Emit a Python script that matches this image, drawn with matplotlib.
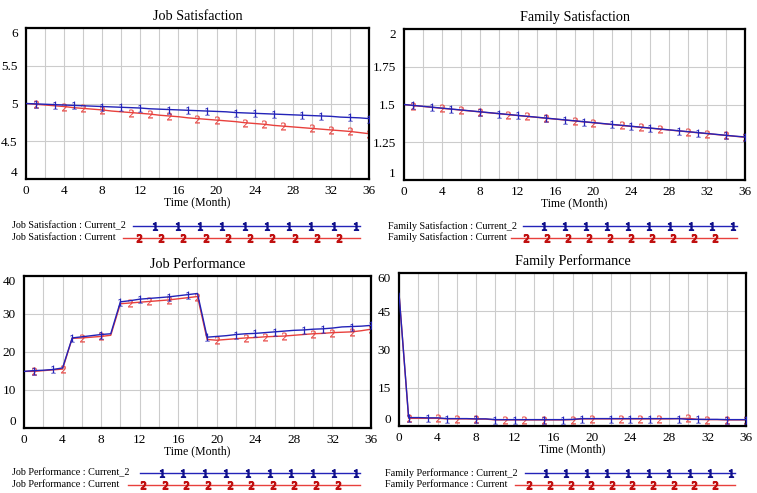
import matplotlib
matplotlib.use('Agg')
import matplotlib.pyplot as plt
import numpy as np

plt.rcParams['font.family'] = ['Liberation Serif', 'DejaVu Serif']
plt.rcParams['mathtext.fontset'] = 'custom'
plt.rcParams['mathtext.rm'] = 'Liberation Serif'
plt.rcParams['mathtext.it'] = 'Liberation Serif'

months = list(range(37))

js_cur2 = [5.00, 4.995, 4.99, 4.985, 4.98, 4.975, 4.97, 4.965, 4.96, 4.955, 4.95, 4.945, 4.94,
           4.93, 4.925, 4.92, 4.915, 4.91, 4.905, 4.90, 4.895, 4.89, 4.88, 4.875, 4.87, 4.865,
           4.86, 4.855, 4.85, 4.845, 4.84, 4.835, 4.83, 4.82, 4.815, 4.81, 4.80]
js_cur = [5.00, 4.99, 4.98, 4.97, 4.96, 4.945, 4.935, 4.925, 4.915, 4.90, 4.89, 4.88, 4.87,
          4.86, 4.845, 4.835, 4.825, 4.81, 4.80, 4.79, 4.78, 4.77, 4.76, 4.745, 4.735, 4.725,
          4.71, 4.70, 4.69, 4.68, 4.67, 4.66, 4.65, 4.64, 4.63, 4.615, 4.60]

fs_cur2 = [1.500, 1.494, 1.488, 1.482, 1.476, 1.470, 1.464, 1.458, 1.452, 1.446, 1.440, 1.434,
           1.428, 1.422, 1.416, 1.410, 1.404, 1.398, 1.392, 1.386, 1.380, 1.374, 1.368, 1.362,
           1.356, 1.350, 1.344, 1.338, 1.332, 1.326, 1.320, 1.314, 1.308, 1.302, 1.296, 1.290, 1.285]
fs_cur = [1.500, 1.493, 1.487, 1.481, 1.475, 1.469, 1.463, 1.457, 1.451, 1.445, 1.439, 1.433,
          1.427, 1.421, 1.415, 1.409, 1.403, 1.397, 1.391, 1.385, 1.379, 1.373, 1.367, 1.361,
          1.355, 1.349, 1.343, 1.337, 1.331, 1.325, 1.319, 1.313, 1.307, 1.301, 1.295, 1.289, 1.283]

jp_cur2 = [14.9, 15.1, 15.2, 15.4, 15.8, 23.7, 24.0, 24.3, 24.6, 24.8, 33.2, 33.5, 33.9, 34.1,
           34.3, 34.5, 34.8, 35.1, 35.4, 23.9, 24.1, 24.3, 24.6, 24.8, 24.9, 25.1, 25.3, 25.5,
           25.7, 25.8, 26.0, 26.1, 26.3, 26.6, 26.7, 26.8, 27.0]
jp_cur = [14.9, 14.9, 15.1, 15.3, 15.5, 23.6, 23.7, 23.9, 24.1, 24.4, 32.7, 32.9, 33.1, 33.3,
          33.5, 33.7, 34.0, 34.3, 34.6, 23.3, 23.1, 23.3, 23.5, 23.7, 23.8, 24.0, 24.1, 24.2,
          24.4, 24.6, 24.8, 24.9, 25.1, 25.2, 25.3, 25.6, 26.0]

fp_cur2 = [52.0, 3.3, 3.3, 3.2, 3.2, 2.9, 2.9, 2.9, 2.8, 2.8, 2.5, 2.5, 2.5, 2.5, 2.5, 2.5,
           2.5, 2.5, 2.6, 2.9, 2.9, 2.9, 2.9, 2.9, 2.9, 2.9, 2.9, 2.9, 2.9, 2.9, 2.6, 2.6,
           2.6, 2.6, 2.5, 2.5, 2.5]
fp_cur = [52.0, 3.0, 3.0, 3.0, 3.0, 2.8, 2.8, 2.8, 2.7, 2.7, 2.4, 2.4, 2.4, 2.4, 2.4, 2.4,
          2.4, 2.4, 2.5, 2.8, 2.8, 2.8, 2.8, 2.8, 2.8, 2.8, 2.8, 2.8, 2.8, 2.9, 3.0, 2.6,
          2.5, 2.5, 2.4, 2.4, 2.4]

mk_blue = [1, 3, 5, 8, 10, 12, 15, 17, 19, 22, 24, 26, 29, 31, 34, 36]
mk_red = [1, 4, 6, 8, 11, 13, 15, 18, 20, 23, 25, 27, 30, 32, 34, 36]

BLUE = '#2323b8'
RED = '#e8403c'
W, H = 757, 493

panels = [
    ('Job Satisfaction', js_cur2, js_cur, (4, 6), [4, 4.5, 5, 5.5, 6], ['4', '4.5', '5', '5.5', '6'],
     (26, 28, 369, 179)),
    ('Family Satisfaction', fs_cur2, fs_cur, (1, 2), [1, 1.25, 1.5, 1.75, 2], ['1', '1.25', '1.5', '1.75', '2'],
     (404, 29, 745, 180)),
    ('Job Performance', jp_cur2, jp_cur, (0, 40), [0, 10, 20, 30, 40], ['0', '10', '20', '30', '40'],
     (24, 276, 371, 428)),
    ('Family Performance', fp_cur2, fp_cur, (0, 60), [0, 15, 30, 45, 60], ['0', '15', '30', '45', '60'],
     (399, 273, 746, 426)),
]

fig = plt.figure(figsize=(W / 100, H / 100), dpi=100)

for title, s2, s1, ylim, yt, ytl, (l, t, r, b) in panels:
    ax = fig.add_axes([l / W, 1 - b / H, (r - l) / W, (b - t) / H])
    ax.plot(months, s2, color=BLUE, lw=1.0, marker='$1$', markersize=5.5, markevery=mk_blue,
            markeredgewidth=0.2, zorder=3)
    ax.plot(months, s1, color=RED, lw=1.0, marker='$2$', markersize=5.5, markevery=mk_red,
            markeredgewidth=0.2, zorder=2)
    ax.set_xlim(0, 36)
    ax.set_ylim(*ylim)
    ax.set_xticks(range(0, 37, 4))
    ax.set_xticks(range(0, 37, 2), minor=True)
    ax.set_yticks(yt)
    ax.set_yticklabels(ytl)
    ax.grid(True, which='both', axis='x', color='#cccccc', lw=0.8)
    ax.grid(True, which='major', axis='y', color='#cccccc', lw=0.8)
    ax.tick_params(which='both', length=0, labelsize=9.5, pad=4)
    ax.tick_params(axis='y', pad=6)
    ylabs = ax.get_yticklabels()
    ylabs[0].set_va('bottom')
    ylabs[-1].set_va('top')
    for sp in ax.spines.values():
        sp.set_linewidth(1.6)
        sp.set_color('black')
    ax.set_title(title, fontsize=10.2, pad=6)
    ax.set_xlabel('Time (Month)', fontsize=8.5, labelpad=0)

# legend rows under each panel
lg = fig.add_axes([0, 0, 1, 1])
lg.set_xlim(0, W)
lg.set_ylim(H, 0)
lg.axis('off')
legends = [
    ('Job Satisfaction', 12, 226, 133, 123, 360),
    ('Family Satisfaction', 388, 226, 523, 511, 737),
    ('Job Performance', 12, 473, 140, 128, 360),
    ('Family Performance', 385, 473, 525, 515, 735),
]
for name, tx, ty, bx, rx, ex in legends:
    lg.text(tx, ty, name + ' : Current_2', fontsize=7.3, va='center', ha='left')
    lg.text(tx, ty + 11.5, name + ' : Current', fontsize=7.3, va='center', ha='left')
    lg.plot([bx, ex], [ty, ty], color=BLUE, lw=1.0)
    lg.plot([rx, ex], [ty + 11.5, ty + 11.5], color=RED, lw=1.0)
    step = (ex - 4 - bx) / 10.0
    bpos = [bx + step * (k + 1) for k in range(10)]
    rpos = [rx + step * (k + 0.7) for k in range(10)]
    lg.plot(bpos, [ty] * 10, ls='none', marker='$1$', markersize=5.5, color='#10108a')
    lg.plot(rpos, [ty + 11.5] * 10, ls='none', marker='$2$', markersize=5.5, color='#c01010')

fig.savefig('out.png', dpi=100)
